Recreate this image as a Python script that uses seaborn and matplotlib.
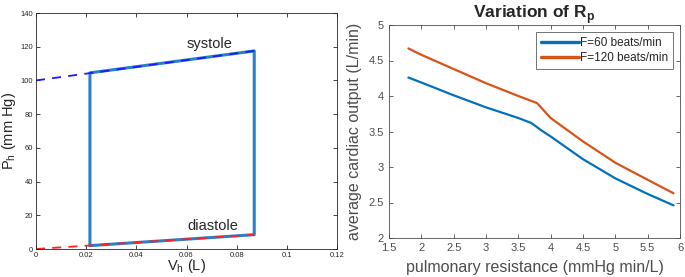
import numpy as np
import pandas as pd
import matplotlib
matplotlib.use("Agg")
import matplotlib.pyplot as plt
import seaborn as sns

# left panel: pressure-volume loop
loop_v = [0.0215, 0.0215, 0.087, 0.087, 0.0215]
loop_p = [2.0, 104.5, 117.5, 8.5, 2.0]
sys_v = [0.0, 0.087]
sys_p = [100.0, 117.5]
dia_v = [0.0, 0.087]
dia_p = [0.0, 8.5]

# right panel: cardiac output vs pulmonary resistance
rp = [1.8, 2.0, 2.5, 3.0, 3.5, 3.7, 3.85, 4.0, 4.5, 5.0, 5.5, 5.9]
co_60 = [4.26, 4.19, 4.01, 3.84, 3.69, 3.62, 3.52, 3.43, 3.11, 2.84, 2.62, 2.46]
rp2 = [1.8, 2.0, 2.5, 3.0, 3.5, 3.79, 3.9, 4.0, 4.5, 5.0, 5.5, 5.9]
co_120 = [4.67, 4.58, 4.38, 4.18, 4.00, 3.90, 3.79, 3.69, 3.36, 3.06, 2.82, 2.63]

sns.set_style("ticks")
plt.rcParams['font.family'] = ['Liberation Sans', 'DejaVu Sans']
plt.rcParams['mathtext.fontset'] = 'custom'
plt.rcParams['mathtext.rm'] = 'Liberation Sans'
plt.rcParams['mathtext.bf'] = 'Liberation Sans:bold'

W, H = 685, 277
fig = plt.figure(figsize=(W / 100, H / 100), dpi=100)

def box(l, t, r, b):
    return [l / W, 1 - b / H, (r - l) / W, (b - t) / H]

ax1 = fig.add_axes(box(36, 13, 337, 249))
sns.lineplot(x=loop_v, y=loop_p, sort=False, estimator=None, color="#2a7fc9",
             lw=2.2, ax=ax1)
sns.lineplot(x=sys_v, y=sys_p, estimator=None, color="#1a1aff", lw=1.3,
             ax=ax1, linestyle=(0, (5, 4)))
sns.lineplot(x=dia_v, y=dia_p, estimator=None, color="#ff2020", lw=1.3,
             ax=ax1, linestyle=(0, (5, 4)))
ax1.set_xlim(0, 0.12)
ax1.set_ylim(0, 140)
ax1.set_xticks([0, 0.02, 0.04, 0.06, 0.08, 0.1, 0.12])
ax1.set_xticklabels(["0", "0.02", "0.04", "0.06", "0.08", "0.1", "0.12"])
ax1.set_yticks(range(0, 141, 20))
ax1.tick_params(direction="in", top=True, right=True, labelsize=5.5,
                length=3, width=0.6, pad=2)
for s in ax1.spines.values():
    s.set_linewidth(0.6)
ax1.set_xlabel(r"V$_\mathregular{h}$ (L)", fontsize=10.5, labelpad=-1)
ax1.set_ylabel(r"P$_\mathregular{h}$ (mm Hg)", fontsize=10.5, labelpad=2)
ax1.text(0.0602, 119, "systole", fontsize=10.5, va="baseline")
ax1.text(0.0602, 11.5, "diastole", fontsize=10.5, va="baseline")

ax2 = fig.add_axes(box(389, 25, 680, 238))
df = pd.DataFrame({"rp": rp + rp2, "co": co_60 + co_120,
                   "F": ["F=60 beats/min"] * len(rp) + ["F=120 beats/min"] * len(rp2)})
sns.lineplot(data=df, x="rp", y="co", hue="F", estimator=None, sort=False,
             palette=["#0072BD", "#D95319"], lw=1.6, ax=ax2)
ax2.set_xlim(1.5, 6)
ax2.set_ylim(2, 5)
ax2.set_xticks(np.arange(1.5, 6.01, 0.5))
ax2.set_xticklabels(["1.5", "2", "2.5", "3", "3.5", "4", "4.5", "5", "5.5", "6"])
ax2.set_yticks(np.arange(2, 5.01, 0.5))
ax2.set_yticklabels(["2", "2.5", "3", "3.5", "4", "4.5", "5"])
ax2.tick_params(direction="in", top=True, right=True, labelsize=8,
                labelcolor="#4d4d4d", color="#4d4d4d", length=3, width=0.6)
for s in ax2.spines.values():
    s.set_linewidth(0.6)
    s.set_color("#4d4d4d")
ax2.set_xlabel("pulmonary resistance (mmHg min/L)", fontsize=11.5,
               color="#4d4d4d", labelpad=5)
ax2.set_ylabel("average cardiac output (L/min)", fontsize=11.5,
               color="#4d4d4d", labelpad=5)
ax2.set_title(r"Variation of R$_\mathregular{p}$", fontsize=12.5,
              fontweight="bold", pad=5)
leg = ax2.legend(loc="upper right", fontsize=8.5, frameon=True, fancybox=False,
                 edgecolor="#333333", handlelength=3.2, borderaxespad=0.6,
                 handletextpad=0.1, borderpad=0.4, labelspacing=0.3)
leg.set_title(None)
leg.get_frame().set_linewidth(0.6)
for ln in leg.get_lines():
    ln.set_linewidth(2.4)

fig.savefig("out.png", dpi=100)
